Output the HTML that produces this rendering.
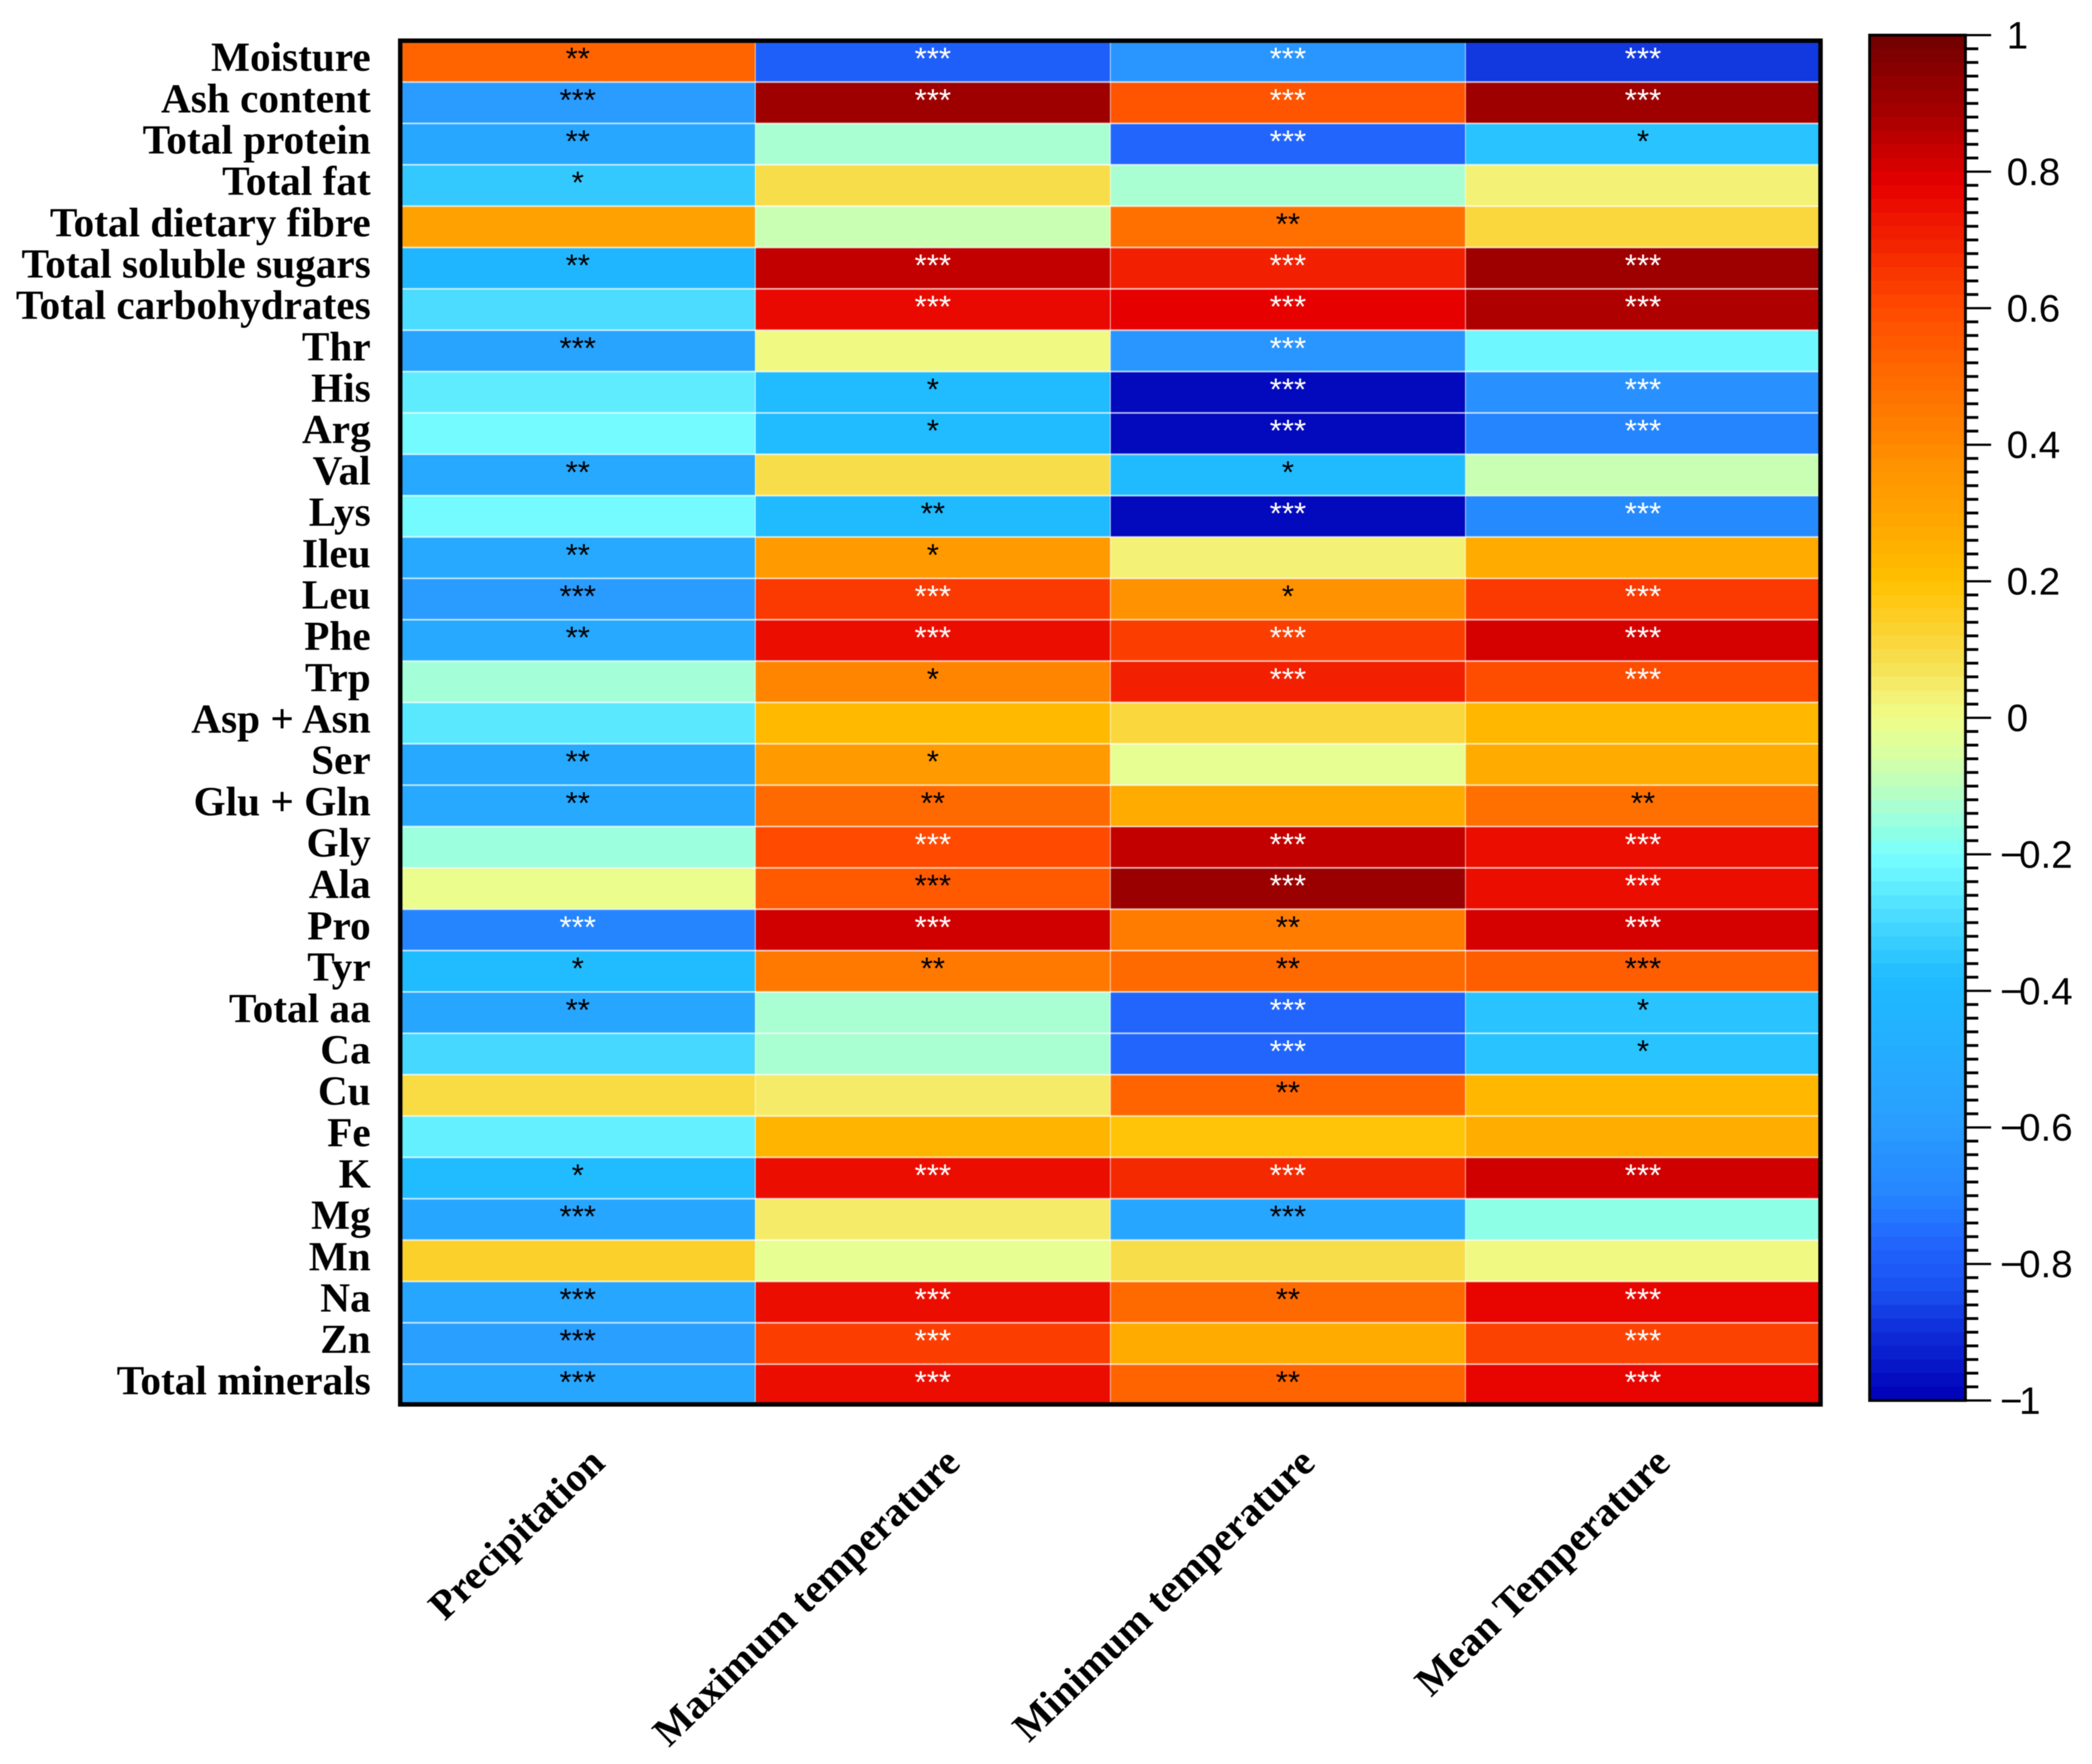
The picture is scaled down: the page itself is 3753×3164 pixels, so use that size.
<!DOCTYPE html>
<html lang="en">
<head>
<meta charset="utf-8">
<title>Correlation heatmap</title>
<style>
html,body{margin:0;padding:0;background:#fff;}
#chart{display:block;width:3753px;height:3164px;filter:blur(0.9px);}
</style>
</head>
<body>
<svg id="chart" xmlns="http://www.w3.org/2000/svg" width="3753" height="3164" viewBox="0 0 3753 3164">
  <rect x="0" y="0" width="3753" height="3164" fill="#ffffff"></rect>
  <g id="cells"></g>
  <g id="grid"></g>
  <g id="stars"></g>
  <rect x="718" y="73" width="2548" height="2446" fill="none" stroke="#000" stroke-width="8"></rect>
  <g id="rowLabels"></g>
  <g id="colLabels"></g>
  <g id="bar"></g>
  <rect x="3354" y="63" width="172" height="2449" fill="none" stroke="#000" stroke-width="5"></rect>
  <g id="ticks"></g>
  <g id="tickLabels"></g>
</svg>
<script>
const rowNames = ["Moisture","Ash content","Total protein","Total fat","Total dietary fibre","Total soluble sugars","Total carbohydrates","Thr","His","Arg","Val","Lys","Ileu","Leu","Phe","Trp","Asp + Asn","Ser","Glu + Gln","Gly","Ala","Pro","Tyr","Total aa","Ca","Cu","Fe","K","Mg","Mn","Na","Zn","Total minerals"];
const columnNames = ["Precipitation","Maximum temperature","Minimum temperature","Mean Temperature"];

const precipitation = [0.52,-0.60,-0.53,-0.34,0.31,-0.42,-0.29,-0.55,-0.25,-0.21,-0.52,-0.21,-0.52,-0.60,-0.52,-0.14,-0.26,-0.52,-0.52,-0.15,-0.01,-0.70,-0.38,-0.54,-0.30,0.10,-0.24,-0.38,-0.54,0.14,-0.54,-0.58,-0.54];
const maximumTemperature = [-0.79,0.90,-0.13,0.09,-0.08,0.84,0.76,0.01,-0.38,-0.38,0.09,-0.39,0.34,0.64,0.75,0.41,0.22,0.34,0.50,0.60,0.55,0.82,0.45,-0.13,-0.13,0.05,0.24,0.75,0.05,-0.02,0.75,0.63,0.75];
const minimumTemperature = [-0.63,0.57,-0.77,-0.13,0.48,0.70,0.78,-0.63,-0.98,-0.98,-0.39,-0.98,0.03,0.37,0.63,0.70,0.11,-0.02,0.27,0.84,0.91,0.44,0.50,-0.77,-0.77,0.52,0.19,0.68,-0.54,0.09,0.50,0.27,0.52];
const meanTemperature = [-0.88,0.90,-0.36,0.03,0.11,0.90,0.87,-0.22,-0.65,-0.70,-0.08,-0.68,0.27,0.64,0.81,0.59,0.23,0.27,0.48,0.75,0.75,0.81,0.54,-0.36,-0.36,0.23,0.26,0.82,-0.17,0.01,0.77,0.62,0.77];

// "W" prefix marks white asterisks; otherwise they are black.
const starsPrecipitation = ["**","***","**","*","","**","","***","","","**","","**","***","**","","","**","**","","","W***","*","**","","","","*","***","","***","***","***"];
const starsMaximum = ["W***","W***","","","","W***","W***","","*","*","","**","*","W***","W***","*","","*","**","W***","***","W***","**","","","","","W***","","","W***","W***","W***"];
const starsMinimum = ["W***","W***","W***","","**","W***","W***","W***","W***","W***","*","W***","","*","W***","W***","","","","W***","W***","**","**","W***","W***","**","","W***","***","","**","","**"];
const starsMean = ["W***","W***","*","","","W***","W***","","W***","W***","","W***","","W***","W***","W***","","","**","W***","W***","W***","***","*","*","","","W***","","","W***","W***","W***"];

const colorbarTicks = [1,0.8,0.6,0.4,0.2,0,-0.2,-0.4,-0.6,-0.8,-1];
const colorStopValues = [1,0.96,0.90,0.86,0.82,0.78,0.74,0.70,0.66,0.60,0.52,0.44,0.36,0.28,0.20,0.14,0.08,0.04,0,-0.06,-0.10,-0.14,-0.18,-0.20,-0.26,-0.32,-0.38,-0.40,-0.50,-0.60,-0.70,-0.76,-0.84,-0.90,-1];
const colorStopColors = ["#6e0000","#850000","#9e0000","#b50000","#d00000","#e60000","#ec1200","#f22000","#f73200","#ff4a00","#ff6400","#ff7c00","#ff9500","#ffa800","#ffc000","#fcd02a","#f7e050","#f4ee70","#eefd88","#d6ffa6","#bbffbe","#a4ffd8","#85ffec","#78ffff","#5ae8ff","#3cd0ff","#20bcff","#1fb8ff","#25acff","#2a9cff","#2585ff","#2268ff","#1a50f0","#0e2cd8","#0000b5"];

const series = [precipitation, maximumTemperature, minimumTemperature, meanTemperature];
const starSeries = [starsPrecipitation, starsMaximum, starsMinimum, starsMean];
const seriesKeys = ["precipitation", "maximum-temperature", "minimum-temperature", "mean-temperature"];

const NS = "http://www.w3.org/2000/svg";
function make(parent, tag, attrs, text) {
  const el = document.createElementNS(NS, tag);
  for (const k in attrs) el.setAttribute(k, attrs[k]);
  if (text !== undefined) el.textContent = text;
  parent.appendChild(el);
  return el;
}
function hexToRgb(h) {
  return [parseInt(h.slice(1,3),16), parseInt(h.slice(3,5),16), parseInt(h.slice(5,7),16)];
}
function colorOf(v) {
  const c = Math.max(-1, Math.min(1, v));
  for (let i = 0; i < colorStopValues.length - 1; i++) {
    const a = colorStopValues[i], b = colorStopValues[i + 1];
    if (c <= a && c >= b) {
      const t = (a - c) / (a - b);
      const ca = hexToRgb(colorStopColors[i]), cb = hexToRgb(colorStopColors[i + 1]);
      return "rgb(" + ca.map((x, j) => Math.round(x + (cb[j] - x) * t)).join(",") + ")";
    }
  }
  return colorStopColors[colorStopColors.length - 1];
}

// Axis functions
const plotLeft = 718, plotRight = 3266, plotTop = 73, plotBottom = 2521;
const colWidth = (plotRight - plotLeft) / columnNames.length;
const rowHeight = (plotBottom - plotTop) / rowNames.length;
const xOf = i => plotLeft + i * colWidth;
const yOf = i => plotTop + i * rowHeight;
const barTop = 63, barBottom = 2512;
const barY = v => barTop + (1 - v) / 2 * (barBottom - barTop);

const cells = document.getElementById("cells");
const starsG = document.getElementById("stars");
series.forEach((vals, c) => {
  vals.forEach((v, r) => {
    const rect = make(cells, "rect", {x: xOf(c), y: yOf(r), width: colWidth + 0.5, height: rowHeight + 0.5, fill: colorOf(v)});
    
    
    const raw = starSeries[c][r];
    if (raw) {
      const white = raw[0] === "W";
      const t = make(starsG, "text", {
        x: xOf(c) + colWidth / 2, y: yOf(r) + rowHeight / 2 + 14, "text-anchor": "middle",
        "font-family": '"Liberation Sans", sans-serif', "font-size": 56,
        fill: white ? "#ffffff" : "#000000"
      }, raw.replace("W", ""));
      
      
    }
  });
});

const grid = document.getElementById("grid");
for (let r = 1; r < rowNames.length; r++) {
  const line = make(grid, "rect", {x: plotLeft, y: yOf(r) - 1.5, width: plotRight - plotLeft, height: 3, fill: "#ffffff", "fill-opacity": 0.7});
  
  
}
for (let c = 1; c < columnNames.length; c++) {
  const line = make(grid, "rect", {x: xOf(c) - 1, y: plotTop, width: 2, height: plotBottom - plotTop, fill: "#ffffff", "fill-opacity": 0.55});
  
  
}

const rowLabels = document.getElementById("rowLabels");
rowNames.forEach((name, r) => {
  const t = make(rowLabels, "text", {
    x: 665, y: yOf(r) + rowHeight / 2 + 17, "text-anchor": "end",
    "font-family": '"Liberation Serif", serif', "font-size": 74, "font-weight": "bold", fill: "#000"
  }, name);
  
  
});

const colLabels = document.getElementById("colLabels");
columnNames.forEach((name, c) => {
  const px = xOf(c) + colWidth / 2 + 52, py = 2628;
  const t = make(colLabels, "text", {
    x: px, y: py, "text-anchor": "end", transform: "rotate(-44 " + px + " " + py + ")",
    "font-family": '"Liberation Serif", serif', "font-size": 73, "font-weight": "bold", fill: "#000"
  }, name);
  
  
});

// Colorbar: 100 discrete bands, each 0.02 tall
const bar = document.getElementById("bar");
for (let i = 0; i < 100; i++) {
  const hi = 1 - i * 0.02, lo = hi - 0.02;
  const band = make(bar, "rect", {x: 3354, y: barY(hi), width: 172, height: barY(lo) - barY(hi) + 0.5, fill: colorOf((hi + lo) / 2)});
  
  
}

const ticks = document.getElementById("ticks");
for (let i = 0; i <= 100; i++) {
  const v = 1 - i * 0.02;
  const major = i % 10 === 0;
  const tick = make(ticks, "line", {x1: 3526, x2: major ? 3572 : 3549, y1: barY(v), y2: barY(v), stroke: "#000", "stroke-width": major ? 4 : 5});
  
  
}

const tickLabels = document.getElementById("tickLabels");
colorbarTicks.forEach(v => {
  const neg = v < 0;
  const t = make(tickLabels, "text", {
    x: neg ? 3588 : 3600, y: barY(v) + 24,
    "font-family": '"Liberation Sans", sans-serif', "font-size": 69, fill: "#000"
  });
  if (neg) {
    const m = make(t, "tspan", {"letter-spacing": "-6"}, "\u2212");
    
    
  }
  make(t, "tspan", {}, String(Math.abs(v)));
  
  
});
</script>
</body>
</html>
